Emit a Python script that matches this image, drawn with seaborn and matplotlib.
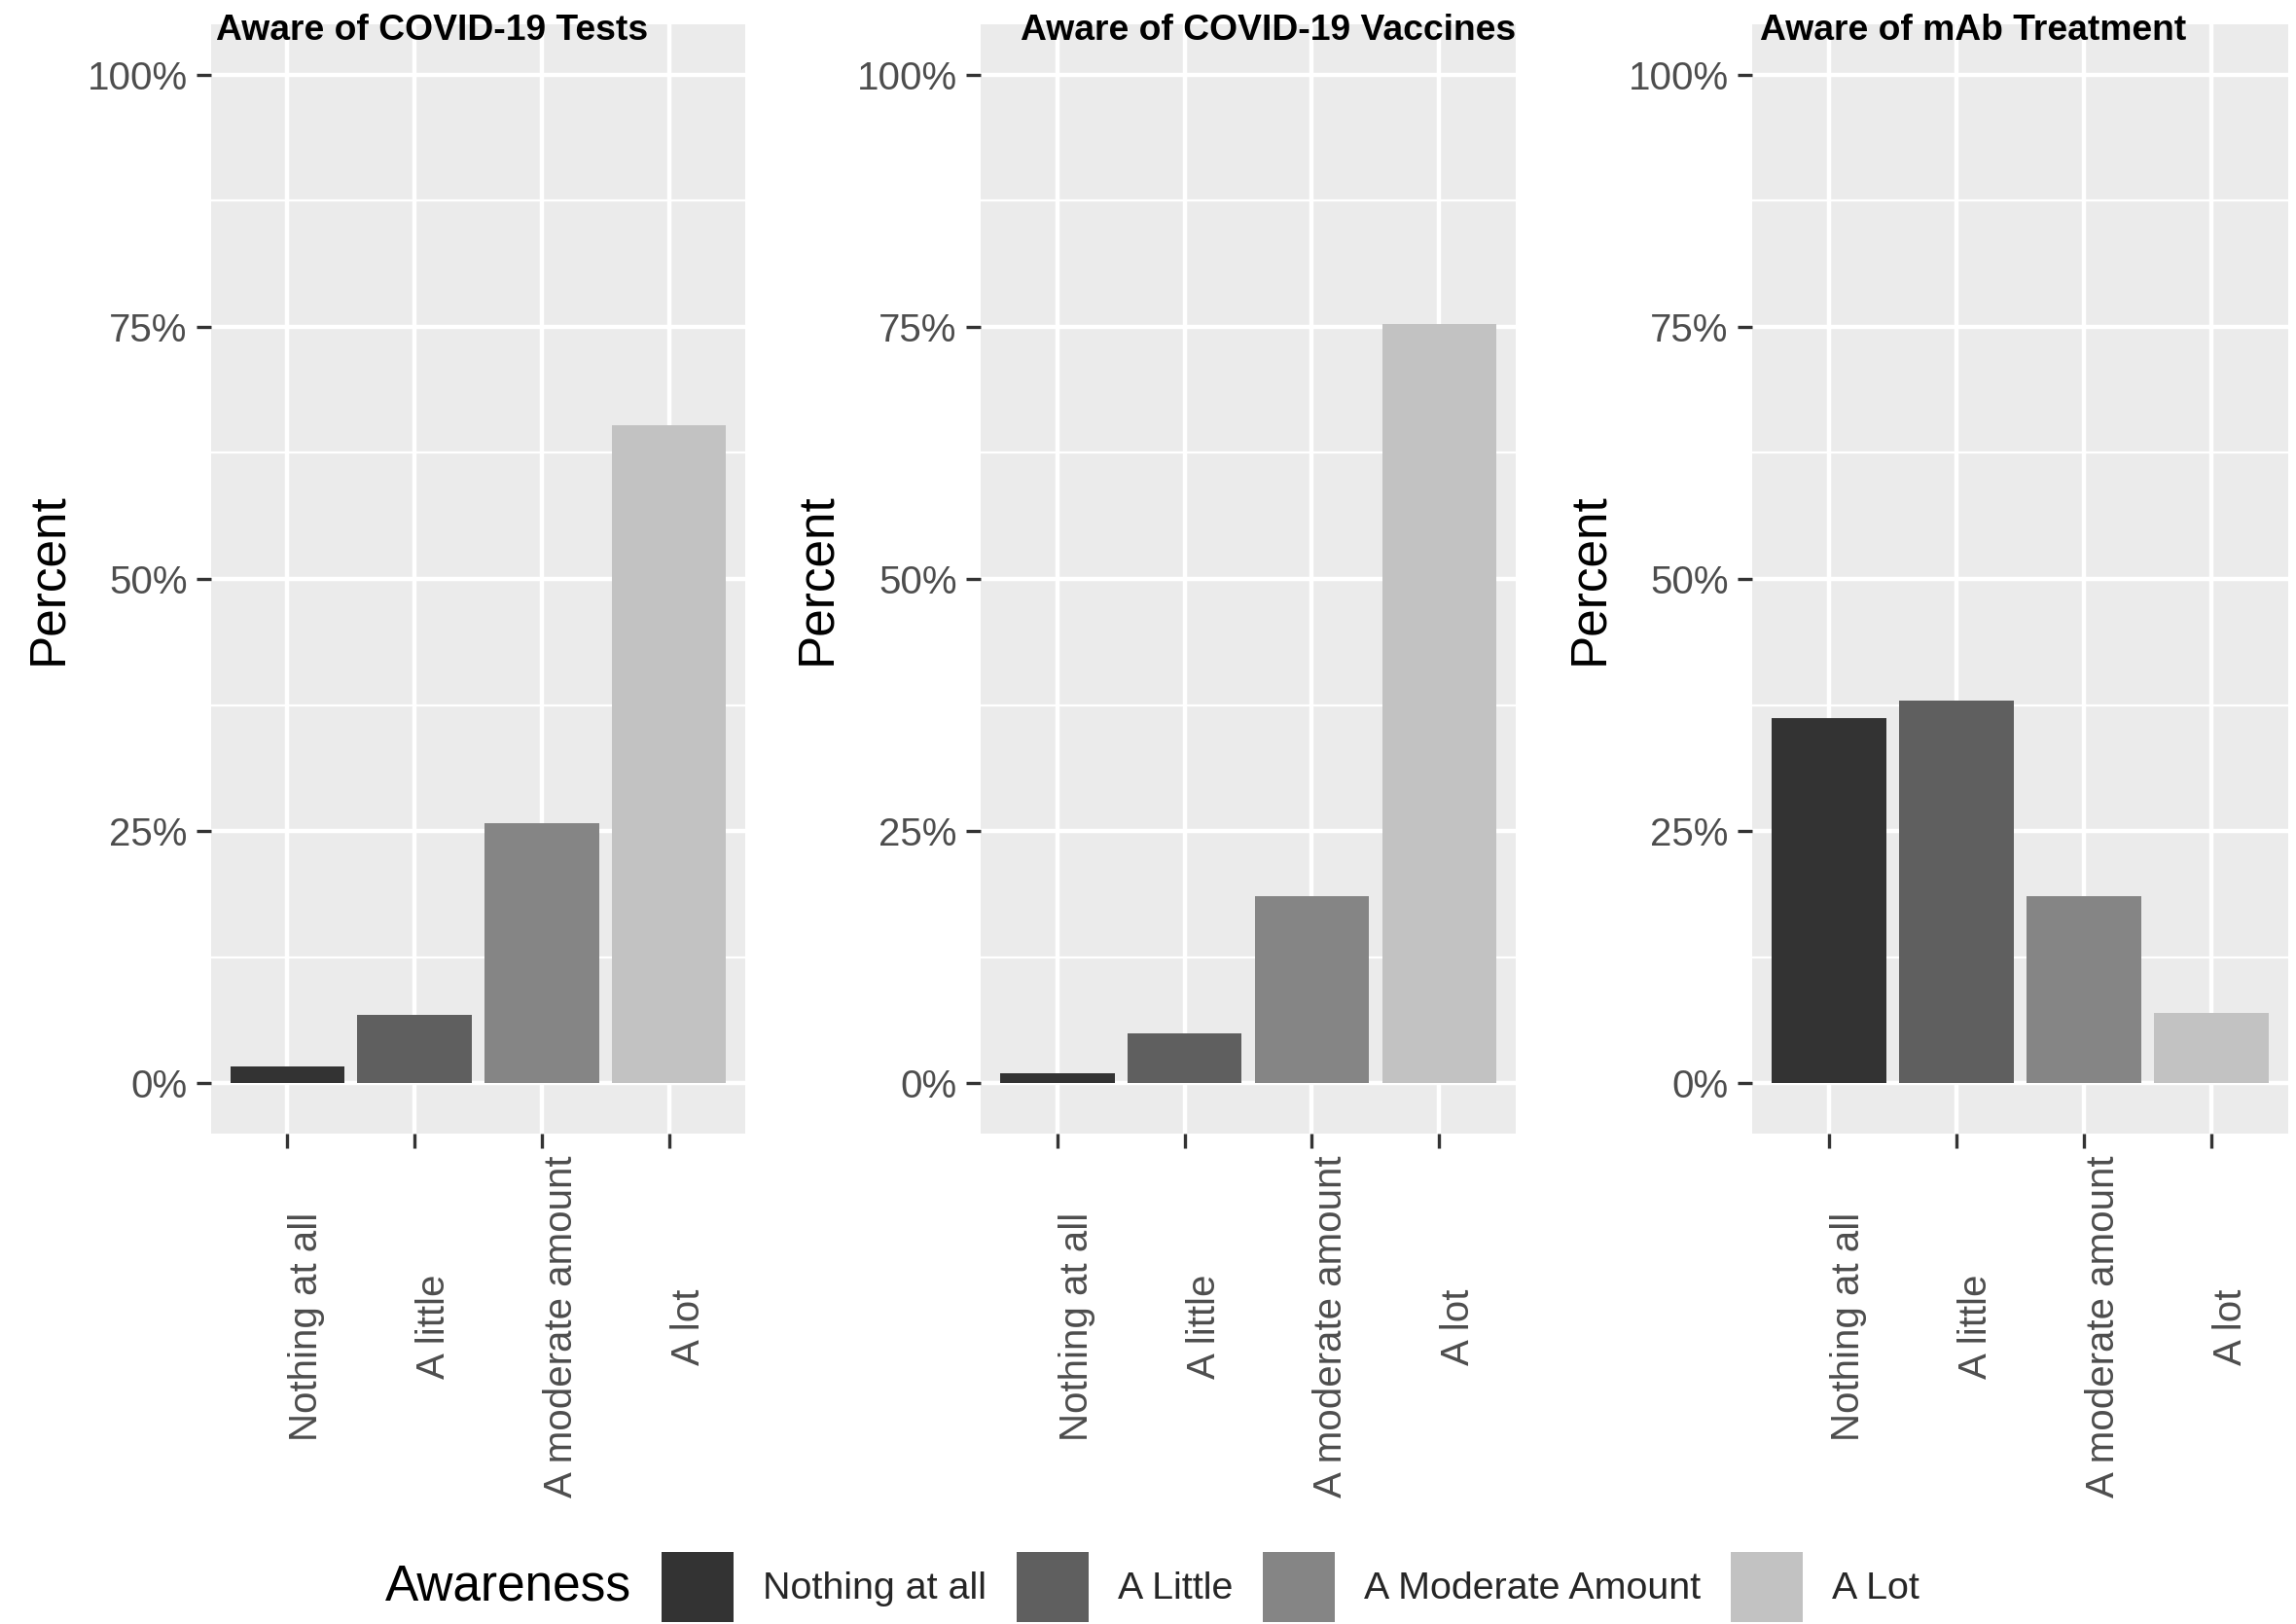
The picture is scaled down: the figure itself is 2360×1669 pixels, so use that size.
import numpy as np
import pandas as pd
import matplotlib
matplotlib.use("Agg")
import matplotlib.pyplot as plt
import matplotlib.transforms as mtransforms
from matplotlib.patches import Patch
from matplotlib.ticker import FixedLocator
import seaborn as sns

# data (percent of respondents)
categories = ["Nothing at all", "A little", "A moderate amount", "A lot"]
legend_labels = ["Nothing at all", "A Little", "A Moderate Amount", "A Lot"]
panel_titles = ["Aware of COVID-19 Tests", "Aware of COVID-19 Vaccines", "Aware of mAb Treatment"]
tests_pct = [1.7, 6.8, 25.8, 65.2]
vaccines_pct = [1.0, 4.9, 18.5, 75.3]
mab_pct = [36.2, 37.9, 18.5, 7.0]
y_ticks = [0, 25, 50, 75, 100]
y_tick_labels = ["0%", "25%", "50%", "75%", "100%"]
grey_fill = ["#333333", "#5F5F5F", "#858585", "#C2C2C2"]

df = pd.DataFrame({
    "Panel": np.repeat(panel_titles, len(categories)),
    "Level": categories * 3,
    "Percent": tests_pct + vaccines_pct + mab_pct,
})

sns.set_style("darkgrid", {"axes.facecolor": "#EBEBEB", "grid.color": "white"})
plt.rcParams["font.family"] = ["Liberation Sans", "DejaVu Sans"]

W, H = 2360, 1669
fig = plt.figure(figsize=(W / 200, H / 200), dpi=200)
fig.patch.set_facecolor("white")

# panel geometry in pixels (left, width) and shared top/bottom
panel_x = [(217, 549), (1008, 550), (1801, 551)]
top_px, bottom_px = 25, 1165
title_dx = [0.009, 0.075, 0.0145]
ylabel_x = [-0.305, -0.305, -0.303]

for i, title in enumerate(panel_titles):
    left, width = panel_x[i]
    ax = fig.add_axes([left / W, 1 - bottom_px / H, width / W, (bottom_px - top_px) / H])
    sub = df[df["Panel"] == title]
    sns.barplot(data=sub, x="Level", y="Percent", hue="Level", order=categories,
                hue_order=categories, palette=grey_fill, width=0.9, linewidth=0,
                saturation=1, legend=False, ax=ax)

    ax.set_xlim(-0.6, 3.6)
    ax.set_ylim(-5, 105)
    ax.set_yticks(y_ticks)
    ax.set_yticklabels(y_tick_labels)
    ax.yaxis.set_minor_locator(FixedLocator([12.5, 37.5, 62.5, 87.5]))
    ax.set_xticks(range(len(categories)))
    ax.set_xticklabels(categories, rotation=90, va="center", ha="center")

    ax.set_axisbelow(True)
    ax.grid(which="major", color="white", linewidth=1.6)
    ax.grid(which="minor", axis="y", color="white", linewidth=0.8)
    ax.tick_params(which="minor", length=0, bottom=False, left=False)
    ax.tick_params(axis="both", which="major", length=5.4, width=1.2, color="#333333",
                   labelcolor="#4D4D4D", labelsize=14.5, bottom=True, left=True)
    ax.tick_params(axis="y", pad=3.4)
    ax.tick_params(axis="x", pad=66.0)
    for sp in ax.spines.values():
        sp.set_visible(False)

    # nudge the rotated category labels to the right of their ticks
    offset = mtransforms.ScaledTranslation(7.2 / 72, 0, fig.dpi_scale_trans)
    for lab in ax.get_xticklabels():
        lab.set_transform(lab.get_transform() + offset)

    ax.set_xlabel("")
    ax.set_ylabel("Percent", fontsize=18.5, color="black", va="center")
    ax.yaxis.set_label_coords(ylabel_x[i], 0.5)

    ax.text(title_dx[i], 0.994, title, transform=ax.transAxes, ha="left", va="center",
            fontsize=13.4, fontweight="bold", color="black")

# legend along the bottom
handles = [Patch(facecolor=c, edgecolor="none", label=l) for c, l in zip(grey_fill, legend_labels)]
leg_y = 1 - 1631 / H
fig.legend(handles=handles, loc="center left", bbox_to_anchor=(680 / W, leg_y), ncol=4,
           frameon=False, fontsize=14.2, handlelength=1.88, handleheight=2.43,
           handletextpad=0.76, columnspacing=0.78, borderpad=0, borderaxespad=0)
fig.text(396 / W, leg_y, "Awareness", ha="left", va="center", fontsize=18.5, color="black")

fig.savefig("out.png", dpi=200, facecolor="white")
